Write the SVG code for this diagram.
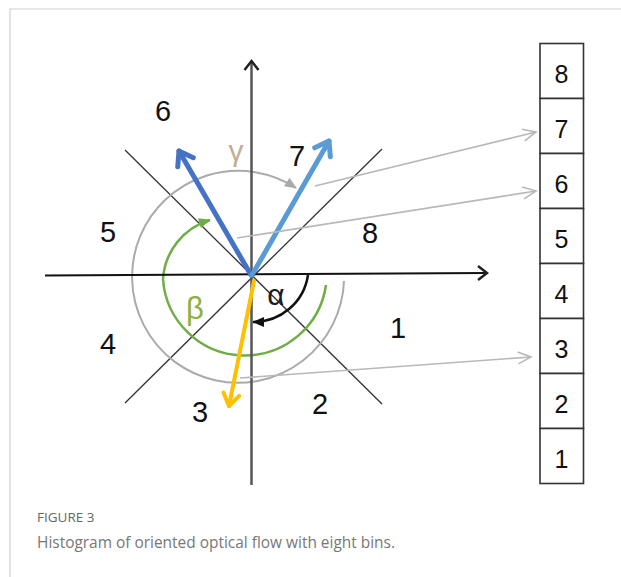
<svg xmlns="http://www.w3.org/2000/svg" width="621" height="577" viewBox="0 0 621 577">
<style>
.lbl{font-family:"Liberation Sans",Arial,sans-serif;font-size:29px;fill:#111;text-anchor:middle}
.hlbl{font-family:"Liberation Sans",Arial,sans-serif;font-size:25px;fill:#111;text-anchor:middle}
.cell{fill:#fff;stroke:#333;stroke-width:1.6}
.diag{stroke:#333;stroke-width:1.3;fill:none}
.conn{stroke:#b8b8b8;stroke-width:1.6;fill:none;marker-end:url(#mGray)}
.cap{font-family:"Open Sans","Liberation Sans",sans-serif}
.greek{font-family:"Liberation Sans",Arial,sans-serif;text-anchor:middle}
</style>
<defs>
<marker id="mAxis" markerUnits="userSpaceOnUse" markerWidth="30" markerHeight="30" viewBox="-15 -15 30 30" refX="0" refY="0" orient="auto" overflow="visible">
<path d="M-9,-7 L0,0 L-9,7" fill="none" stroke="#222" stroke-width="2.5" stroke-linejoin="miter"/>
</marker>
<marker id="mGray" markerUnits="userSpaceOnUse" markerWidth="30" markerHeight="30" viewBox="-15 -15 30 30" refX="0" refY="0" orient="auto" overflow="visible">
<path d="M-13,-6 L0,0 L-13,6" fill="none" stroke="#b8b8b8" stroke-width="1.6"/>
</marker>
<marker id="mBlue" markerUnits="userSpaceOnUse" markerWidth="40" markerHeight="40" viewBox="-20 -20 40 40" refX="0" refY="0" orient="auto" overflow="visible">
<path d="M-13,-9 L0,0 L-13,9" fill="none" stroke="#4472c4" stroke-width="5" stroke-linejoin="round" stroke-linecap="round"/>
</marker>
<marker id="mLBlue" markerUnits="userSpaceOnUse" markerWidth="40" markerHeight="40" viewBox="-20 -20 40 40" refX="0" refY="0" orient="auto" overflow="visible">
<path d="M-13,-9 L0,0 L-13,9" fill="none" stroke="#5b9bd5" stroke-width="5" stroke-linejoin="round" stroke-linecap="round"/>
</marker>
<marker id="mOrange" markerUnits="userSpaceOnUse" markerWidth="40" markerHeight="40" viewBox="-20 -20 40 40" refX="0" refY="0" orient="auto" overflow="visible">
<path d="M-12,-8 L0,0 L-12,8" fill="none" stroke="#ffc000" stroke-width="4" stroke-linejoin="round" stroke-linecap="round"/>
</marker>
<marker id="mGrayTri" markerUnits="userSpaceOnUse" markerWidth="30" markerHeight="30" viewBox="-15 -15 30 30" refX="0" refY="0" orient="auto" overflow="visible">
<path d="M-11,-5 L1,0 L-11,5 Z" fill="#aaa"/>
</marker>
<marker id="mGreenTri" markerUnits="userSpaceOnUse" markerWidth="30" markerHeight="30" viewBox="-15 -15 30 30" refX="0" refY="0" orient="auto" overflow="visible">
<path d="M-11,-5 L1,0 L-11,5 Z" fill="#70ad47"/>
</marker>
<marker id="mBlackTri" markerUnits="userSpaceOnUse" markerWidth="30" markerHeight="30" viewBox="-15 -15 30 30" refX="0" refY="0" orient="auto" overflow="visible">
<path d="M-11,-5 L1,0 L-11,5 Z" fill="#111"/>
</marker>
</defs>
<rect width="621" height="577" fill="#fff"/>
<path d="M10,577 V9 H621" fill="none" stroke="#cfcfcf" stroke-width="1.2"/>

<g id="diagonals">
<line class="diag" x1="125" y1="150" x2="382" y2="404"/>
<line class="diag" x1="382" y1="149" x2="125" y2="403"/>
</g>

<g id="arcs">
<path d="M344,281 A106,106 0 1 1 296,188" fill="none" stroke="#aaa" stroke-width="2" marker-end="url(#mGrayTri)"/>
<path d="M326,285 A82,82 0 0 1 163,279 A66,66 0 0 1 210,220" fill="none" stroke="#70ad47" stroke-width="2.5" marker-end="url(#mGreenTri)"/>
<path d="M308,275 A55,55 0 0 1 253,322" fill="none" stroke="#111" stroke-width="2.5" marker-end="url(#mBlackTri)"/>
</g>

<g id="axes">
<line x1="251.5" y1="485" x2="251.5" y2="61" stroke="#555" stroke-width="2.5" marker-end="url(#mAxis)"/>
<line x1="45" y1="275.5" x2="487" y2="273" stroke="#111" stroke-width="2" marker-end="url(#mAxis)"/>
</g>

<g id="vectors">
<line x1="251" y1="275" x2="179" y2="151" stroke="#4472c4" stroke-width="5" stroke-linecap="round" marker-end="url(#mBlue)"/>
<line x1="252" y1="275" x2="329" y2="141" stroke="#5b9bd5" stroke-width="5" stroke-linecap="round" marker-end="url(#mLBlue)"/>
<line x1="254" y1="281" x2="229" y2="406" stroke="#ffc000" stroke-width="4" stroke-linecap="round" marker-end="url(#mOrange)"/>
</g>

<g id="connectors">
<line class="conn" x1="315" y1="186" x2="536" y2="132"/>
<line class="conn" x1="237" y1="238" x2="536" y2="191"/>
<line class="conn" x1="240" y1="378" x2="531" y2="357"/>
</g>

<g id="region-labels">
<text class="lbl" x="163" y="121">6</text>
<text class="lbl" x="297" y="166">7</text>
<text class="lbl" x="108" y="242">5</text>
<text class="lbl" x="370" y="243">8</text>
<text class="lbl" x="108" y="354">4</text>
<text class="lbl" x="398" y="338">1</text>
<text class="lbl" x="200" y="422">3</text>
<text class="lbl" x="320" y="414">2</text>
</g>

<g id="angle-labels">
<text class="greek" x="276" y="305" font-size="30" fill="#1a1a2a">α</text>
<text class="greek" x="195" y="319" font-size="31" fill="#8db040">β</text>
<text class="greek" x="236" y="161" font-size="30" fill="#c2ad95">γ</text>
</g>

<g id="histogram">
<g id="bin8"><rect class="cell" x="540" y="43.5" width="43.5" height="55"/><text class="hlbl" x="561.5" y="83">8</text></g>
<g id="bin7"><rect class="cell" x="540" y="98.5" width="43.5" height="55"/><text class="hlbl" x="561.5" y="138">7</text></g>
<g id="bin6"><rect class="cell" x="540" y="153.5" width="43.5" height="55"/><text class="hlbl" x="561.5" y="193">6</text></g>
<g id="bin5"><rect class="cell" x="540" y="208.5" width="43.5" height="55"/><text class="hlbl" x="561.5" y="248">5</text></g>
<g id="bin4"><rect class="cell" x="540" y="263.5" width="43.5" height="55"/><text class="hlbl" x="561.5" y="303">4</text></g>
<g id="bin3"><rect class="cell" x="540" y="318.5" width="43.5" height="55"/><text class="hlbl" x="561.5" y="358">3</text></g>
<g id="bin2"><rect class="cell" x="540" y="373.5" width="43.5" height="55"/><text class="hlbl" x="561.5" y="413">2</text></g>
<g id="bin1"><rect class="cell" x="540" y="428.5" width="43.5" height="55"/><text class="hlbl" x="561.5" y="468">1</text></g>
</g>

<g id="caption">
<text class="cap" x="37" y="522" font-size="13.5" fill="#666">FIGURE 3</text>
<text class="cap" x="37" y="548" font-size="17" fill="#777" textLength="358" lengthAdjust="spacingAndGlyphs">Histogram of oriented optical flow with eight bins.</text>
</g>
</svg>
